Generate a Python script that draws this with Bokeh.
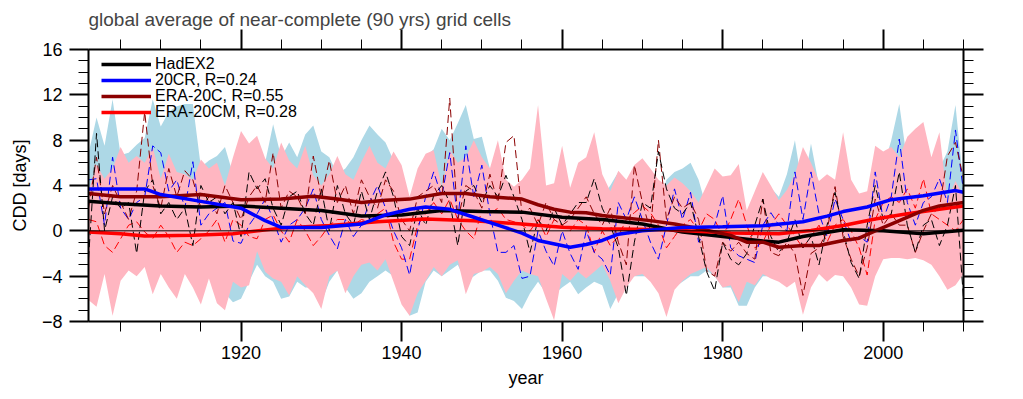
from bokeh.plotting import figure
from bokeh.models import Range1d, LinearAxis, FixedTicker, Span, Legend, LegendItem
from bokeh.embed import file_html
from bokeh.resources import INLINE

FONT = "Liberation Sans"

years = list(range(1901, 2011))

# HadEX2 annual anomalies (black dashed)
had = [
    -2.5, 8.6, 0.0, 3.0, 2.0, 2.5, -2.0, 3.5, 4.5, 1.5,
    2.5, 1.0, 2.0, -1.3, 4.0, 2.5, 3.0, 1.5, 2.5, -0.5,
    5.2, 3.7, 4.6, 2.0, 0.5, 3.0, 3.5, 1.5, 0.5, 3.7,
    0.0, 4.0, 1.5, 0.5, 3.5, 1.0, 3.5, 5.2, 3.0, -0.5,
    -1.3, 2.0, 0.5, 3.1, 4.0, 2.5, -1.3, 3.5, 4.0, 2.5,
    4.0, 3.0, 4.9, 3.0, 1.0, -1.9, 1.0, 0.0, 2.0, 0.5,
    1.5, 2.5, 2.5, 4.6, 2.0, 0.5, -1.5, -5.7, -1.0, 2.5,
    2.0, 7.0, 3.7, 2.0, 1.5, 2.5, -0.5, -3.6, -5.3, -1.0,
    -2.5, -3.0, -2.0, 0.5, 2.8, -0.5, -1.9, -1.0, 1.0, -1.5,
    -0.5, -3.0, 0.5, 3.4, 0.0, -2.8, -4.2, 0.5, 4.0, 1.0,
    1.5, 5.2, 0.5, -1.9, 0.5, 1.0, -1.3, 0.5, 4.0, -6.0,
]

# 20CR annual (blue dashed)
cr = [
    4.5, 4.6, 0.5, 6.5, 2.0, 1.0, 2.5, 3.0, 7.5, 6.9,
    3.5, 4.5, 2.0, 6.1, 0.5, 1.5, 2.0, 2.5, -0.9, -1.1,
    0.5, 1.5, 2.8, 1.0, -1.0, 0.5, 1.0, 2.0, 3.7, 1.0,
    -0.4, -1.6, 1.0, -0.5, 0.5, 2.5, 4.0, 2.0, 0.0, -1.5,
    -3.9, 0.0, 3.0, 5.2, 3.0, 6.9, 1.0, 7.5, 3.0, 5.8,
    1.5, -1.9, -1.9, -1.3, -4.2, -4.0, 0.0, -1.8, -3.1, 0.0,
    -2.0, -3.4, 0.0, -1.9, -2.5, -3.9, 2.5, 1.0, 3.0, 1.0,
    -1.0, -2.5, 0.5, 3.7, 1.0, 3.4, -1.0, 0.0, 0.5, 3.1,
    -1.5, -2.2, -2.5, -2.8, 0.5, 1.6, 0.5, 0.0, 5.2, 1.0,
    5.2, 1.5, -0.5, 2.8, 1.0, -1.0, -0.5, -1.0, 5.2, 1.0,
    3.0, 8.1, 2.5, 0.5, 2.5, 3.0, 4.6, 2.5, 8.9, 3.5,
]

# ERA-20C annual (dark red dashed)
e20c = [
    2.0, 6.5, 1.5, 4.0, 2.5, 1.0, 3.5, 10.5, 4.0, 2.0,
    5.5, 3.0, 5.3, 4.5, 2.0, 3.0, 1.5, 4.0, 2.5, 1.0,
    3.0, 4.0, 2.5, 6.9, 2.0, 3.5, 3.0, 1.5, 6.6, 3.0,
    6.2, 2.5, 4.0, 1.5, 4.5, 3.0, 2.0, 4.5, 3.5, 1.0,
    0.0, 3.0, 3.5, 4.0, 2.5, 11.7, 1.0, 4.0, 3.5, 2.0,
    5.0, 2.5, 7.8, 8.4, 1.5, 2.0, 0.5, 2.5, 1.0, 0.5,
    1.0, 2.0, 3.0, 1.5, 0.5, 2.0, -1.0, -3.0, 5.8, 2.5,
    0.0, 8.0, 1.0, 3.0, 2.0, 2.5, 1.0, -3.5, -4.0, -1.0,
    -1.8, -1.0, -2.0, -2.5, 2.8, -1.9, -2.2, -1.0, -2.0, -5.7,
    -2.0, -1.5, 0.0, 3.9, -0.5, -2.5, -4.0, -1.5, 2.8, 0.5,
    1.5, 0.5, 0.5, -1.9, 0.0, 1.5, 2.0, 6.6, 7.8, 4.6,
]

# ERA-20CM annual ensemble mean (red dashed)
cm = [
    1.0, 0.8, -1.3, -1.9, -0.7, 0.5, 0.8, -0.1, -0.7, 0.5,
    -0.5, -1.9, -1.0, -1.3, -0.7, 0.0, 1.0, -1.0, 1.0, 0.5,
    -0.5, -0.7, 1.0, 1.4, 0.0, -1.0, 1.0, 0.0, -1.3, -0.5,
    0.5, 1.0, 1.0, 0.5, 1.0, 0.8, 1.5, 2.0, -1.0, -2.5,
    -2.5, 0.5, 1.5, 2.5, 1.5, 2.8, 1.0, 0.0, -0.7, 1.8,
    1.5, 2.0, 1.0, 0.8, 0.5, 0.0, 1.0, -0.5, 1.0, 0.5,
    0.0, 1.0, 0.5, -1.9, 0.0, -1.3, -0.5, 1.0, 1.6, 2.2,
    1.6, 0.5, -1.5, -0.5, 0.5, 1.0, 0.0, 1.5, 1.0, -0.5,
    1.0, 2.8, 0.5, -1.5, -1.0, 0.5, 1.5, 0.5, -0.5, -1.5,
    -0.5, 0.5, -1.0, 0.5, 1.0, 0.0, -1.5, -3.9, 1.0, 2.5,
    3.0, 2.5, 3.7, 2.0, 4.6, 1.5, 1.0, 0.5, 0.0, 1.0,
]

# 20CR ensemble spread (light blue band)
cr_hi = [
    6.8, 10.0, 7.5, 11.6, 6.7, 6.9, 7.6, 8.2, 11.6, 9.2,
    10.5, 11.0, 11.2, 11.2, 5.6, 6.2, 6.6, 7.4, 5.0, 3.3,
    5.0, 6.5, 6.0, 9.4, 6.5, 7.8, 6.5, 8.5, 9.3, 7.0,
    6.5, 5.0, 5.5, 6.5, 8.0, 9.3, 8.5, 7.8, 6.2, 4.0,
    3.0, 4.5, 6.5, 7.2, 9.0, 8.0, 9.5, 11.1, 8.1, 8.3,
    5.5, 4.6, 3.8, 3.0, 2.8, 2.0, 1.5, 1.8, 1.0, 2.5,
    1.5, 2.0, 1.0, 2.5, 3.0, 4.0, 5.2, 4.0, 3.5, 3.0,
    3.0, 2.5, 4.5, 5.2, 5.5, 6.0, 4.5, 2.0, 2.5, 4.0,
    1.5, 2.0, 1.0, 0.5, 2.0, 3.8, 3.0, 5.0, 8.0, 3.5,
    7.7, 4.0, 3.0, 4.0, 1.5, 2.0, 1.0, 3.0, 7.1, 5.5,
    8.0, 11.2, 6.0, 5.0, 4.0, 4.5, 5.5, 7.0, 11.1, 4.0,
]
cr_lo = [
    -4.0, -3.5, -3.0, -4.0, -3.5, -2.5, -3.0, -2.5, -3.5, -3.0,
    -3.5, -4.0, -3.0, -3.5, -4.0, -3.5, -4.5, -5.5, -6.3, -6.0,
    -4.5, -3.0, -4.0, -4.5, -6.0, -5.8, -4.5, -5.0, -5.0, -6.3,
    -4.5, -3.5, -5.0, -6.0, -5.5, -4.5, -4.0, -3.5, -4.0, -5.5,
    -7.5, -7.2, -4.5, -3.5, -4.0, -3.5, -3.0, -4.5, -4.0, -3.5,
    -3.5, -4.4, -5.9, -6.2, -6.9, -5.5, -4.5, -5.5, -5.6, -5.0,
    -4.5, -5.6, -5.0, -4.5, -4.8, -6.9, -5.5, -4.5, -4.0, -4.0,
    -4.0, -4.5, -5.5, -5.0, -4.5, -4.0, -4.0, -3.5, -4.0, -5.0,
    -5.0, -6.6, -6.6, -5.0, -4.0, -4.0, -4.0, -4.5, -4.5, -5.0,
    -4.5, -3.5, -4.0, -3.5, -3.5, -4.0, -5.0, -5.5, -3.5, -2.0,
    -2.0, -2.0, -2.0, -2.0, -2.0, -2.5, -3.0, -3.5, -3.0, -3.0,
]

# ERA-20CM ensemble spread (pink band)
cm_hi = [
    3.5, 5.8, 4.6, 5.5, 7.4, 6.0, 6.6, 6.0, 7.4, 4.6,
    6.8, 5.2, 5.0, 4.5, 6.3, 5.5, 6.0, 4.0, 6.5, 8.8,
    7.7, 8.4, 6.4, 5.5, 7.8, 6.2, 5.5, 7.5, 4.9, 4.0,
    5.0, 6.6, 5.0, 4.5, 6.1, 7.5, 6.0, 5.5, 7.0, 5.8,
    3.0, 5.5, 6.8, 7.1, 3.9, 7.1, 6.0, 6.5, 8.0, 6.5,
    5.5, 8.0, 4.5, 3.9, 4.5, 5.5, 11.1, 4.0, 4.2, 7.5,
    3.8, 6.0, 6.5, 8.7, 5.0, 3.5, 5.3, 4.5, 5.8, 6.4,
    5.5, 4.5, 4.0, 4.7, 4.2, 3.5, 2.5, 4.0, 5.5, 4.8,
    4.9, 5.9, 1.8, 3.5, 5.2, 4.0, 2.7, 3.6, 5.0, 7.4,
    6.0, 4.4, 5.0, 4.5, 8.7, 4.5, 3.3, 3.5, 7.5, 7.0,
    7.4, 6.5, 8.3, 9.0, 9.6, 6.5, 8.7, 2.7, 4.4, 3.0,
]
cm_lo = [
    -6.1, -6.7, -3.8, -7.5, -4.4, -3.5, -4.0, -3.2, -5.6, -3.8,
    -5.0, -6.0, -3.8, -5.0, -6.5, -4.2, -6.4, -7.0, -4.5, -5.0,
    -4.8, -1.8, -3.6, -4.2, -4.5, -5.7, -4.0, -4.8, -5.5, -6.9,
    -4.0, -3.5, -5.5, -4.0, -3.0, -2.8, -3.5, -2.5, -4.5, -6.5,
    -7.5, -5.5, -4.4, -3.2, -4.0, -3.0, -2.6, -5.6, -3.8, -3.6,
    -3.2, -3.8, -5.5, -4.4, -3.5, -3.8, -4.0, -6.0, -7.9, -3.8,
    -4.4, -3.6, -4.2, -3.6, -3.0, -4.4, -6.4, -5.0, -4.0, -3.8,
    -4.5, -5.5, -7.6, -5.2, -4.4, -3.8, -3.5, -3.2, -4.0, -5.0,
    -4.8, -6.3, -4.5, -4.8, -3.8, -4.2, -4.5, -5.0, -4.5, -7.4,
    -5.0, -3.8, -4.5, -3.9, -4.0, -5.0, -6.5, -6.6, -4.0, -2.5,
    -2.4, -2.4, -2.5, -2.4, -2.6, -3.0, -4.0, -5.2, -4.8, -3.8,
]

# smoothed curves (thick solid lines)
had_s_years = [1901, 1905, 1910, 1915, 1920, 1925, 1930, 1935, 1940, 1945, 1950, 1955,
               1960, 1965, 1970, 1975, 1980, 1985, 1987, 1990, 1995, 2000, 2005, 2010]
had_s = [2.6, 2.4, 2.2, 2.1, 2.2, 2.0, 1.8, 1.3, 1.4, 1.8, 1.7, 1.65,
         1.2, 1.0, 0.6, -0.1, -0.5, -0.9, -1.0, -0.5, 0.1, 0.0, -0.25, 0.05]

cr_s_years = [1901, 1905, 1908, 1910, 1915, 1920, 1923, 1925, 1930, 1935, 1938, 1941, 1943,
              1946, 1949, 1952, 1955, 1957, 1961, 1963, 1965, 1967, 1970, 1975, 1980, 1985,
              1990, 1993, 1995, 1998, 2001, 2005, 2009, 2010]
cr_s = [3.7, 3.7, 3.7, 3.2, 2.6, 2.0, 0.9, 0.3, 0.3, 0.6, 1.4, 1.9, 2.1,
        1.9, 1.2, 0.5, -0.2, -0.85, -1.45, -1.2, -0.85, -0.3, 0.0, 0.3, 0.35, 0.45,
        0.8, 1.3, 1.7, 2.1, 2.75, 3.1, 3.55, 3.4]

e20c_s_years = [1901, 1905, 1910, 1915, 1920, 1925, 1929, 1932, 1935, 1938, 1941, 1945, 1948,
                1951, 1955, 1957, 1959, 1961, 1963, 1965, 1967, 1971, 1974, 1977, 1981, 1983,
                1985, 1987, 1990, 1992, 1995, 1997, 1999, 2001, 2005, 2007, 2010]
e20c_s = [3.3, 3.0, 3.0, 3.2, 2.75, 2.8, 3.05, 2.8, 2.5, 2.7, 2.8, 3.3, 3.3,
          3.0, 2.8, 2.3, 1.9, 1.65, 1.6, 1.35, 1.2, 0.9, 0.6, 0.2, -0.4, -1.0,
          -1.0, -1.45, -1.3, -1.3, -0.85, -0.65, 0.0, 0.6, 1.8, 2.2, 2.5]

cm_s_years = [1901, 1905, 1908, 1914, 1919, 1925, 1931, 1937, 1943, 1949, 1955, 1960,
              1965, 1973, 1981, 1987, 1991, 1995, 1999, 2003, 2007, 2010]
cm_s = [-0.1, -0.26, -0.45, -0.4, -0.26, 0.24, 0.47, 0.8, 1.05, 0.9, 0.6, 0.32,
        0.18, 0.1, -0.2, -0.26, 0.03, 0.47, 1.05, 1.5, 1.9, 2.2]

labels = ["HadEX2", "20CR, R=0.24", "ERA-20C, R=0.55", "ERA-20CM, R=0.28"]
colors = ["black", "#0000FF", "#8B0000", "#FF0000"]

y_ticks = [-8, -4, 0, 4, 8, 12, 16]
y_minor = list(range(-8, 17))
x_ticks = [1920, 1940, 1960, 1980, 2000]
x_minor = list(range(1905, 2011, 5))

p = figure(width=1010, height=395, x_range=Range1d(1901, 2010), y_range=Range1d(-8, 16),
           output_backend="svg", toolbar_location=None,
           min_border_left=88, min_border_right=47, min_border_top=49, min_border_bottom=74)
p.title.text = "global average of near-complete (90 yrs) grid cells"
p.title.text_font = FONT
p.title.text_font_size = "19px"
p.title.text_font_style = "normal"
p.title.standoff = 0
p.title.offset = 0
p.xgrid.visible = False
p.ygrid.visible = False
p.outline_line_color = None
p.background_fill_color = "white"


def style(ax, ticks, minor, tick_len, show_labels):
    ax.ticker = FixedTicker(ticks=ticks, minor_ticks=minor)
    ax.axis_line_width = 2
    ax.axis_line_color = "black"
    ax.major_tick_line_width = 2
    ax.minor_tick_line_width = 1
    ax.major_tick_out = tick_len
    ax.major_tick_in = 0
    ax.minor_tick_out = 10
    ax.minor_tick_in = 0
    ax.major_label_text_font = FONT
    ax.major_label_text_color = "black"
    if show_labels:
        ax.major_label_text_font_size = "18px"
    else:
        ax.major_label_overrides = {t: "" for t in ticks}
        ax.major_label_text_font_size = "1px"
        ax.major_label_standoff = 0


style(p.xaxis[0], x_ticks, x_minor, 20, True)
style(p.yaxis[0], y_ticks, y_minor, 19, True)
p.xaxis[0].major_label_standoff = 4
p.yaxis[0].major_label_standoff = 7
p.xaxis[0].axis_label = "year"
p.yaxis[0].axis_label = "CDD [days]"
for ax in (p.xaxis[0], p.yaxis[0]):
    ax.axis_label_text_font = FONT
    ax.axis_label_text_font_size = "18px"
    ax.axis_label_text_font_style = "normal"
    ax.axis_label_text_color = "black"
p.xaxis[0].axis_label_standoff = 6
p.yaxis[0].axis_label_standoff = 9

top = LinearAxis()
style(top, x_ticks, x_minor, 20, False)
p.add_layout(top, "above")
right = LinearAxis()
style(right, y_ticks, y_minor, 20, False)
p.add_layout(right, "right")

# spread bands
p.varea(x=years, y1=cr_lo, y2=cr_hi, fill_color="#ADD8E6", fill_alpha=1.0)
p.varea(x=years, y1=cm_lo, y2=cm_hi, fill_color="#FFB6C1", fill_alpha=1.0)

p.add_layout(Span(location=0, dimension="width", line_color="black", line_width=1))

# annual dashed lines
for series, col in ((cm, colors[3]), (cr, colors[1]), (e20c, colors[2]), (had, colors[0])):
    p.line(years, series, line_color=col, line_width=1, line_dash="8 4")

# smoothed thick lines
r_had = p.line(had_s_years, had_s, line_color=colors[0], line_width=3.5)
r_cm = p.line(cm_s_years, cm_s, line_color=colors[3], line_width=3.5)
r_e20c = p.line(e20c_s_years, e20c_s, line_color=colors[2], line_width=3.5)
r_cr = p.line(cr_s_years, cr_s, line_color=colors[1], line_width=3.5)

# one legend per row so that the row spacing matches the original (16 px)
for i, (lab, rend) in enumerate(zip(labels, [r_had, r_cr, r_e20c, r_cm])):
    lg = Legend(items=[LegendItem(label=lab, renderers=[rend])], location=(13, 248 - 16 * i))
    lg.border_line_color = None
    lg.background_fill_alpha = 0
    lg.label_text_font = FONT
    lg.label_text_font_size = "16px"
    lg.label_text_color = "black"
    lg.glyph_width = 50
    lg.glyph_height = 16
    lg.label_height = 16
    lg.spacing = 0
    lg.padding = 0
    lg.margin = 0
    lg.label_standoff = 4
    p.add_layout(lg)

open("out.html", "w").write(file_html(p, INLINE))
